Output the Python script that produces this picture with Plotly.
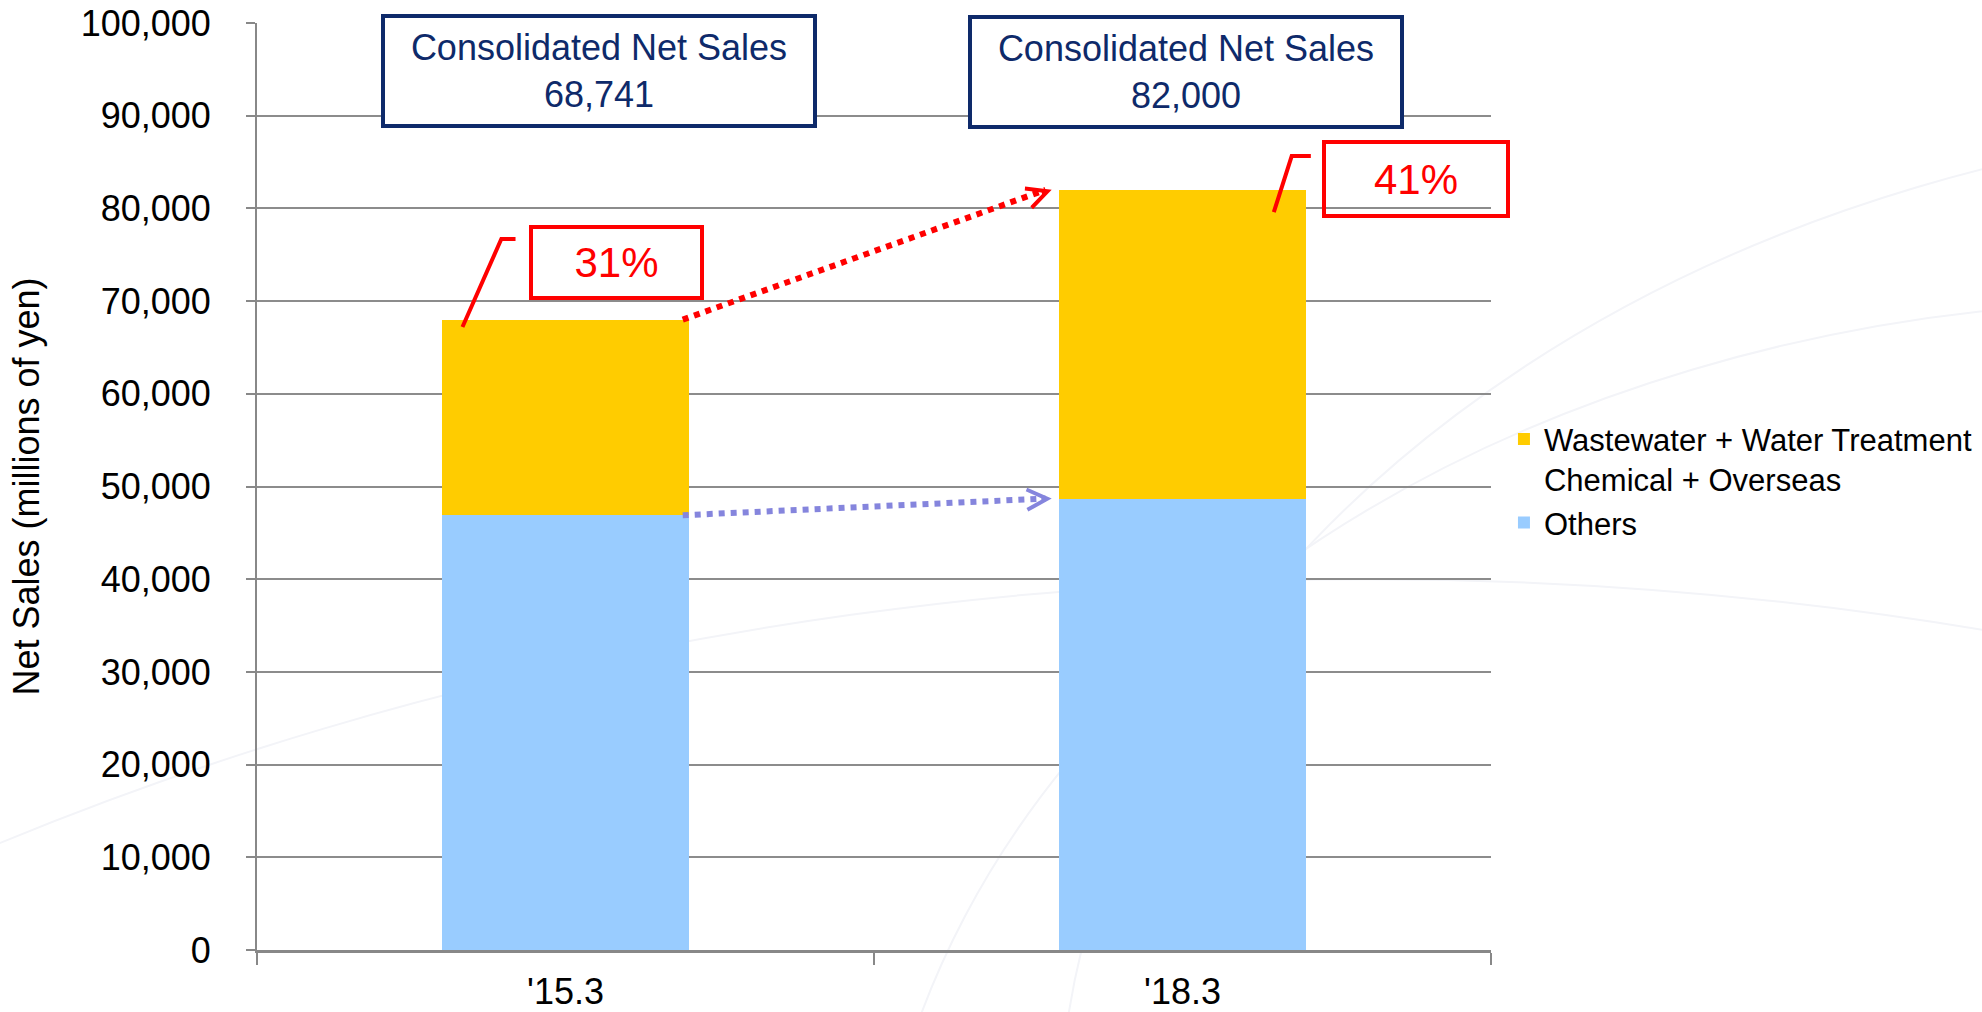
import plotly.graph_objects as go

# data (millions of yen)
years = ["'15.3", "'18.3"]
others = [46900, 48700]
wastewater = [21100, 33300]
consolidated = [68741, 82000]
share_pct = [31, 41]

FONT = "Liberation Sans, Arial, sans-serif"
NAVY = "#0e2a6a"
RED = "#ff0000"
PURPLE = "#8585dd"
BAR_W = 0.4

totals = [o + w for o, w in zip(others, wastewater)]

fig = go.Figure()
fig.add_trace(go.Bar(x=years, y=others, name="Others", width=BAR_W,
                     marker=dict(color="#99ccff", line=dict(width=0))))
fig.add_trace(go.Bar(x=years, y=wastewater, width=BAR_W,
                     name="Wastewater + Water Treatment<br>Chemical + Overseas",
                     marker=dict(color="#ffcc00", line=dict(width=0))))

# very faint background arcs
shapes = []
for cx, cy, r in [(1.55, -0.35, 1.05), (1.75, -0.2, 1.1), (0.9, -1.9, 2.3)]:
    shapes.append(dict(type="circle", xref="paper", yref="paper", layer="below",
                       x0=cx - r, x1=cx + r, y0=cy - r, y1=cy + r,
                       line=dict(color="#f3f4f8", width=2)))

# dotted growth arrows from bar edge to bar edge
x_start = BAR_W / 2 - 0.01
x_end = 1 - BAR_W / 2 - 0.012
arrows = [(totals, RED), (others, PURPLE)]
annotations = []
for vals, col in arrows:
    shapes.append(dict(type="line", xref="x", yref="y",
                       x0=x_start, y0=vals[0], x1=x_end - 0.01, y1=vals[1],
                       line=dict(color=col, width=6, dash="dot")))
    annotations.append(dict(x=x_end, y=vals[1], xref="x", yref="y",
                            ax=x_end - 0.03 * (x_end - x_start),
                            ay=vals[1] - 0.03 * (vals[1] - vals[0]),
                            axref="x", ayref="y", text="", showarrow=True,
                            arrowhead=5, arrowwidth=5, arrowsize=0.8,
                            arrowcolor=col, standoff=0))

# callout leader lines for the share boxes
shapes.append(dict(type="path", xref="x", yref="y",
                   path="M -0.167,67200 L -0.104,76700 L -0.081,76700",
                   line=dict(color=RED, width=4)))
shapes.append(dict(type="path", xref="x", yref="y",
                   path="M 1.148,79600 L 1.177,85650 L 1.208,85650",
                   line=dict(color=RED, width=4)))

# consolidated net sales boxes
for i, (bx, by) in enumerate([(0.054, 94800), (1.006, 94700)]):
    annotations.append(dict(x=bx, y=by, xref="x", yref="y", showarrow=False,
                            text="Consolidated Net Sales<br>{:,}".format(consolidated[i]),
                            font=dict(family=FONT, size=36, color=NAVY),
                            bgcolor="white", bordercolor=NAVY, borderwidth=4,
                            borderpad=0, width=428, height=106))

# share boxes
for i, (bx, by, bw, bh) in enumerate([(0.082, 74150, 167, 67), (1.378, 83170, 180, 70)]):
    annotations.append(dict(x=bx, y=by, xref="x", yref="y", showarrow=False,
                            text="{}%".format(share_pct[i]),
                            font=dict(family=FONT, size=42, color=RED),
                            bordercolor=RED, borderwidth=4, borderpad=0,
                            width=bw, height=bh))

fig.update_layout(
    width=1982, height=1012,
    # autoexpand off so the wide legend does not squeeze the plot area
    margin=dict(l=257, r=491, t=23, b=62, autoexpand=False),
    paper_bgcolor="white", plot_bgcolor="rgba(0,0,0,0)",
    barmode="stack", bargap=0.6,
    font=dict(family=FONT, color="black"),
    xaxis=dict(type="category", range=[-0.5, 1.5], tickson="boundaries",
               ticks="outside", ticklen=12, tickwidth=2, tickcolor="#888888",
               showline=True, linecolor="#888888", linewidth=3,
               tickfont=dict(size=36), ticklabelstandoff=8, showgrid=False,
               automargin=False),
    yaxis=dict(range=[0, 100000], dtick=10000, tickformat=",",
               showgrid=True, gridcolor="#8c8c8c", gridwidth=2,
               showline=True, linecolor="#888888", linewidth=2,
               ticks="outside", ticklen=9, tickwidth=2, tickcolor="#888888",
               tickfont=dict(size=36), ticklabelstandoff=28, zeroline=False,
               automargin=False, ticklabeloverflow="allow",
               title=dict(text="Net Sales (millions of yen)", standoff=30,
                          font=dict(size=36))),
    legend=dict(x=1.0105, y=0.58, xanchor="left", yanchor="top",
                traceorder="reversed", valign="top", itemwidth=30,
                bgcolor="rgba(0,0,0,0)", font=dict(size=31, color="black")),
    shapes=shapes,
    annotations=annotations,
)

# drop the page's default body margin and scrollbars so the figure fills the window exactly
fig.write_html("out.html", config={"displayModeBar": False},
               post_script="document.body.style.margin = '0'; document.body.style.overflow = 'hidden';")
